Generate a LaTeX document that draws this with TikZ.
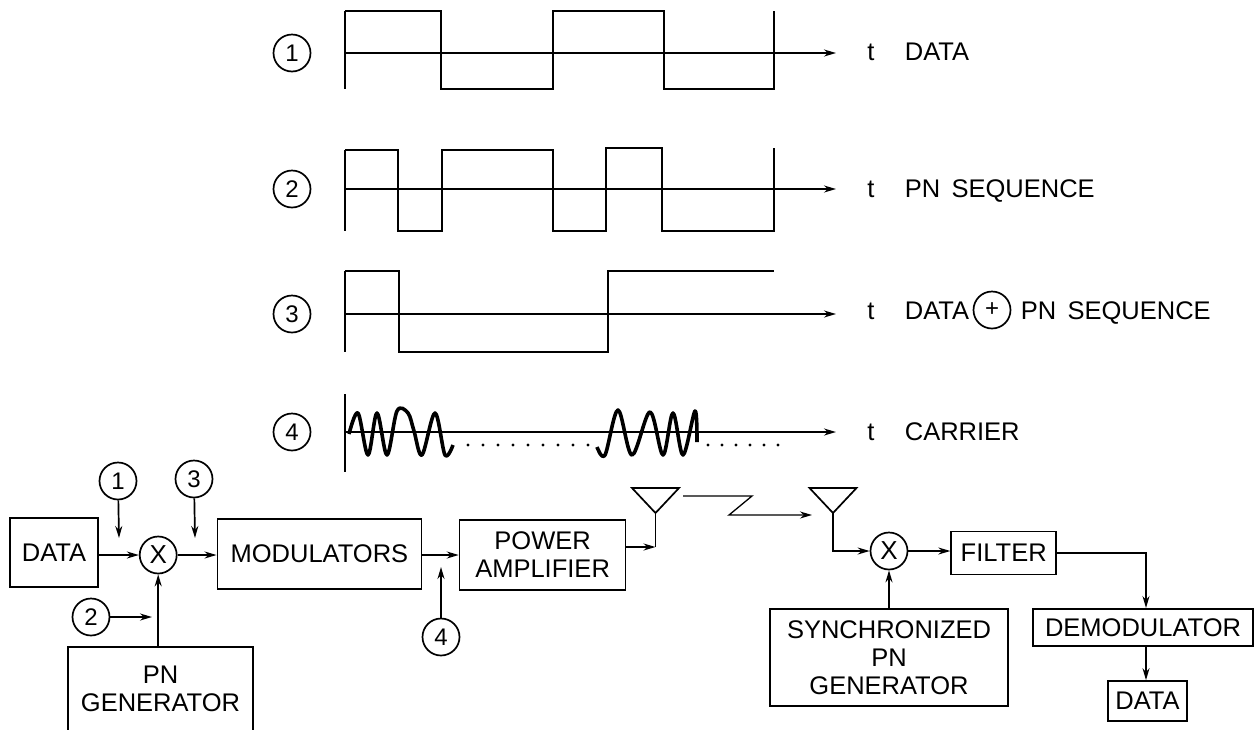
\documentclass[tikz,border=0pt]{standalone}
\usepackage{fontspec}
\setmainfont[WordSpace=1.6]{Liberation Sans}
\usetikzlibrary{arrows.meta,positioning}
\begin{document}
\begin{tikzpicture}[
  x=1pt, y=-1pt,
  line width=1.7pt,
  node distance=40pt,
  lab/.style={font=\fontsize{25.5}{28}\selectfont, inner sep=0pt, align=center},
  box/.style={lab, draw, minimum height=#1},
  box/.default=70pt,
  mix/.style={circle, draw, minimum size=37pt, inner sep=0pt, font=\fontsize{26}{28}\selectfont},
  num/.style={circle, draw, minimum size=37pt, inner sep=0pt, font=\fontsize{24}{26}\selectfont},
  ar/.style={-{Stealth[length=12pt,width=7pt]}},
  wave/.style={line width=3.6pt, line join=round},
]
\useasboundingbox (0,0) rectangle (1258,729);
% waveforms
\foreach \n/\y/\b/\top/\bot/\txt in {1/53/60/11/89/DATA, 2/189/197/150/231/PN SEQUENCE,
    3/314/319/271/352/DATA, 4/432/440/394/472/CARRIER} {
  \node[num] (w\n) at (292,\y) {\n};
  \coordinate (o\n) at (345,\y);
  \coordinate (e\n) at (836,\y);
  \draw (345,\top) -- (345,\bot);
  \draw[ar] (o\n) -- (e\n);
  \node[lab, anchor=base] (t\n) at (871,\b) {t};
  \node[lab, anchor=base west] (l\n) at (904,\b) {\txt};
}
\node[circle, draw, minimum size=37pt, inner sep=0pt, font=\fontsize{24}{26}\selectfont] (plus) at (992,310) {+};
\node[lab, anchor=base west] (pnseq) at (1020,319) {PN SEQUENCE};
\draw (345,11) -- (441,11) -- (441,89) -- (553,89) -- (553,11) -- (664,11) -- (664,89)
  -- (774,89) -- (774,11);
\draw (345,150) -- (398,150) -- (398,231) -- (442,231) -- (442,150) -- (553,150) -- (553,231)
  -- (606,231) -- (606,148) -- (662,148) -- (662,231) -- (774,231) -- (774,148);
\draw (345,271) -- (399,271) -- (399,352) -- (608,352) -- (608,271) -- (774,271);
\draw[wave] plot[smooth, tension=0.55] coordinates {(349,434) (358,413) (368,455) (377,413)
  (387,455) (397,411) (408,413) (414,431) (422,455) (435,413) (445,455) (453,445)};
\draw[wave] plot[smooth, tension=0.55] coordinates {(597,447) (605,455) (618,410) (632,455)
  (650,412) (663,455) (673,413) (683,455) (695,411) (697,442)};
\foreach \x in {468,483,...,588} \fill (\x,445) circle (1.6pt);
\foreach \x in {708,722,...,778} \fill (\x,445) circle (1.6pt);
% transmitter
\node[box=69pt, minimum width=88pt] (data) at (54,552.5) {DATA};
\node[mix, right=40pt of data, yshift=-2.5pt] (mix1) {X};
\node[box, minimum width=204pt, right=39pt of mix1, yshift=1pt] (mod) {MODULATORS};
\node[box, minimum width=166pt, right=36.5pt of mod, yshift=-1pt] (pa) {POWER\\AMPLIFIER};
\node[num] (n1) at (118,481) {1};
\node[num] (n3) at (194,479) {3};
\node[num] (n2) at (91,617) {2};
\node[num] (n4) at (441,637) {4};
\node[lab, minimum width=183pt, minimum height=81pt] (pn) at (160.5,688.5) {PN\\GENERATOR};
\draw (pn.south west) |- (pn.north east) -- (pn.south east);
\coordinate (in1) at (119,538);
\coordinate (in3) at (195,538);
\coordinate (in2) at (152,617);
\coordinate (in4) at (441,567);
\draw[ar] (n1) -- (in1);
\draw[ar] (n3) -- (in3);
\draw[ar] (n2) -- (in2);
\draw[ar] (n4) -- (in4);
\draw[ar] (data.east |- mix1) -- (mix1);
\draw[ar] (mix1) -- (mod.west |- mix1);
\draw[ar] (mod.east |- pa) -- (pa);
\draw[ar] (pn.north -| mix1) -- (mix1);
% antennas and link
\coordinate (ant1) at (655.5,513);
\coordinate (ant2) at (833,513);
\foreach \a in {ant1,ant2}
  \draw[line join=miter] (\a) -- ++(-23.5,-25) -- ++(47,0) -- cycle;
\coordinate (foot1) at (655.5,547);
\draw (ant1) -- (foot1);
\draw[ar] (pa.east |- foot1) -- (foot1);
\coordinate (zig) at (683,496);
\coordinate (zag) at (812,515);
\draw[ar, line width=1.3pt] (zig) -- (752,496) -- (729,515) -- (zag);
% receiver
\node[mix] (mix2) at (889,551) {X};
\node[box=43pt, minimum width=105pt, right=42pt of mix2, yshift=-2pt] (filter) {FILTER};
\node[box=97pt, minimum width=238pt] (sync) at (889,657.5) {SYNCHRONIZED\\PN\\GENERATOR};
\node[box=37pt, minimum width=220pt] (demod) at (1143,627.5) {DEMODULATOR};
\node[box=40pt, minimum width=79pt] (data2) at (1147.5,701) {DATA};
\draw[ar] (ant2) |- (mix2);
\draw[ar] (mix2) -- (filter.west |- mix2);
\draw[ar] (sync.north -| mix2) -- (mix2);
\draw[ar, line width=1.4pt] (filter.east) -| (1146,608);
\draw[ar, line width=1.4pt] (demod.south -| 1146,0) -- (data2.north -| 1146,0);
\end{tikzpicture}
\end{document}
